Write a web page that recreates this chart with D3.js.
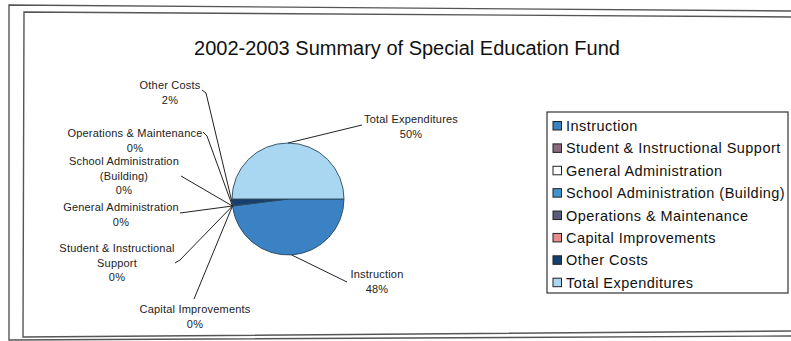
<!DOCTYPE html>
<html>
<head>
<meta charset="utf-8">
<script src="https://cdn.jsdelivr.net/npm/d3@7/dist/d3.min.js"></script>
<style>
  html, body { margin: 0; padding: 0; background: #fff; }
  svg { display: block; font-family: "Liberation Sans", Arial, sans-serif; }
</style>
</head>
<body>
<svg id="chart" width="791" height="341"></svg>
<script>
// Fund categories, in the order they are plotted (clockwise from 3 o'clock)
const categories = [
  "Instruction",
  "Student & Instructional Support",
  "General Administration",
  "School Administration (Building)",
  "Operations & Maintenance",
  "Capital Improvements",
  "Other Costs",
  "Total Expenditures"
];
// Share of the fund, in percent
const shares = [48, 0, 0, 0, 0, 0, 2, 50];
// How each data label wraps onto lines
const labelLines = [
  ["Instruction"],
  ["Student & Instructional", "Support"],
  ["General Administration"],
  ["School Administration", "(Building)"],
  ["Operations & Maintenance"],
  ["Capital Improvements"],
  ["Other Costs"],
  ["Total Expenditures"]
];
const colors = ["#3a82c4", "#8a6a7c", "#ffffff", "#3f95cc", "#5a5a7e", "#ea8c8c", "#163f6e", "#a9d6f1"];

const svg = d3.select("#chart");

// double frame around the chart area
const frame = svg.append("g").attr("fill", "none").attr("stroke", "#555");
frame.append("path").attr("stroke-width", 1.4)
  .attr("d", "M791,11 L9,5 L9,340 L791,336");
frame.append("path").attr("stroke-width", 1.4)
  .attr("d", "M791,17 L24,12 L23,337 L791,331");

// title
svg.append("text")
  .attr("x", 407).attr("y", 55)
  .attr("text-anchor", "middle")
  .attr("font-size", 20)
  .attr("fill", "#111")
  .text("2002-2003 Summary of Special Education Fund");

// pie
const cx = 288, cy = 199, r = 56;
const data = categories.map((c, i) => ({ name: c, value: shares[i], i }));
const pie = d3.pie().value(d => d.value).sort(null)
  .startAngle(Math.PI / 2).endAngle(Math.PI / 2 + 2 * Math.PI);
const arcs = pie(data);
const arc = d3.arc().innerRadius(0).outerRadius(r);
const edge = d3.arc().innerRadius(r).outerRadius(r);

const g = svg.append("g").attr("transform", `translate(${cx},${cy})`);
g.selectAll("path.slice")
  .data(arcs.filter(a => a.data.value > 0))
  .join("path")
  .attr("class", "slice")
  .attr("d", arc)
  .attr("fill", a => colors[a.data.i])
  .attr("stroke", "#2b4a5c")
  .attr("stroke-width", 0.9);

// data labels: centre of the first line, plus the elbow where the leader starts
const labelPos = [
  { x: 377, y: 274, lead: [[347, 282]] },
  { x: 117, y: 248, lead: [[175, 263], [180, 260]] },
  { x: 121, y: 207, lead: [[180, 213]] },
  { x: 124, y: 161, lead: [[181, 176]] },
  { x: 135, y: 133, lead: [[203, 132], [207, 136]] },
  { x: 195, y: 309, lead: [[194, 299]] },
  { x: 170, y: 85,  lead: [[202, 90], [206, 93]] },
  { x: 411, y: 119, lead: [[362, 125]] }
];
const pct = d3.format(".0%");
const lineH = 14.5;

const labels = svg.append("g")
  .attr("font-size", 11)
  .attr("letter-spacing", 0.2)
  .attr("fill", "#222")
  .attr("text-anchor", "middle");

arcs.forEach(a => {
  const p = labelPos[a.data.i];
  const lines = labelLines[a.data.i].concat([pct(a.data.value / 100)]);
  const t = labels.append("text");
  lines.forEach((ln, k) => {
    t.append("tspan").attr("x", p.x).attr("y", p.y + 4 + k * lineH).text(ln);
  });
  // leader from label to the middle of the slice's rim
  const [ex, ey] = edge.centroid(a);
  const pts = p.lead.concat([[cx + ex, cy + ey]]);
  svg.append("path")
    .attr("d", d3.line()(pts))
    .attr("fill", "none")
    .attr("stroke", "#222")
    .attr("stroke-width", 1);
});

// legend
const lg = svg.append("g");
lg.append("rect")
  .attr("x", 547).attr("y", 112).attr("width", 241).attr("height", 181)
  .attr("fill", "#fff").attr("stroke", "#333").attr("stroke-width", 1.2);
const rowY = d3.scalePoint().domain(d3.range(categories.length)).range([126, 282.7]);
categories.forEach((c, i) => {
  const y = rowY(i);
  lg.append("rect")
    .attr("x", 553).attr("y", y - 4.5).attr("width", 8.5).attr("height", 8.5)
    .attr("fill", colors[i]).attr("stroke", "#222").attr("stroke-width", 1);
  lg.append("text")
    .attr("x", 566).attr("y", y + 5)
    .attr("font-size", 14.5)
    .attr("letter-spacing", 0.45)
    .attr("fill", "#111")
    .text(c);
});
</script>
</body>
</html>
